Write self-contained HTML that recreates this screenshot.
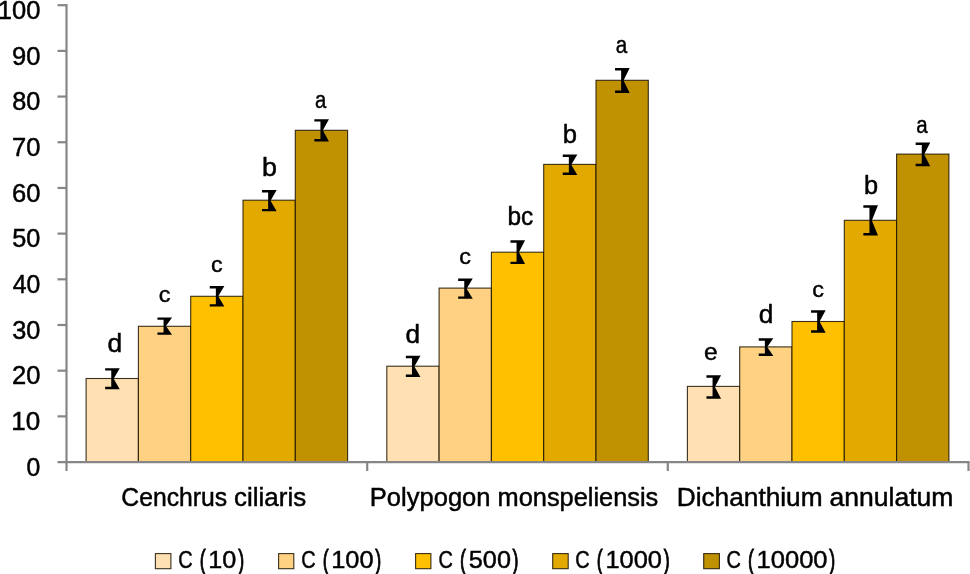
<!DOCTYPE html>
<html><head><meta charset="utf-8"><title>Chart</title>
<style>
html,body{margin:0;padding:0;background:#fff;}
body{width:970px;height:574px;overflow:hidden;font-family:"Liberation Sans",sans-serif;}
svg{display:block;}
</style></head>
<body>
<div style="will-change:transform;width:970px;height:574px;overflow:hidden"><svg width="970" height="574" viewBox="0 0 970 574">
<g stroke="#1a1200" stroke-opacity="0.86" stroke-width="1.1"><rect x="86.10" y="378.50" width="52.30" height="83.55" fill="#FFE0B2"/><rect x="138.40" y="326.30" width="52.30" height="135.75" fill="#FFD182"/><rect x="190.70" y="296.30" width="52.30" height="165.75" fill="#FFC000"/><rect x="243.00" y="200.20" width="52.30" height="261.85" fill="#E2AA00"/><rect x="295.30" y="130.30" width="52.30" height="331.75" fill="#C09100"/><rect x="386.80" y="366.20" width="52.30" height="95.85" fill="#FFE0B2"/><rect x="439.10" y="288.10" width="52.30" height="173.95" fill="#FFD182"/><rect x="491.40" y="252.20" width="52.30" height="209.85" fill="#FFC000"/><rect x="543.70" y="164.40" width="52.30" height="297.65" fill="#E2AA00"/><rect x="596.00" y="80.30" width="52.30" height="381.75" fill="#C09100"/><rect x="687.40" y="386.40" width="52.30" height="75.65" fill="#FFE0B2"/><rect x="739.70" y="346.90" width="52.30" height="115.15" fill="#FFD182"/><rect x="792.00" y="321.50" width="52.30" height="140.55" fill="#FFC000"/><rect x="844.30" y="220.30" width="52.30" height="241.75" fill="#E2AA00"/><rect x="896.60" y="154.10" width="52.30" height="307.95" fill="#C09100"/></g>
<g stroke="#868686" stroke-width="2.2" fill="none"><line x1="66.5" y1="4.10" x2="66.5" y2="471"/><line x1="57.5" y1="462.05" x2="969.6" y2="462.05"/><line x1="57.5" y1="5.20" x2="66.5" y2="5.20"/><line x1="57.5" y1="50.89" x2="66.5" y2="50.89"/><line x1="57.5" y1="96.57" x2="66.5" y2="96.57"/><line x1="57.5" y1="142.25" x2="66.5" y2="142.25"/><line x1="57.5" y1="187.94" x2="66.5" y2="187.94"/><line x1="57.5" y1="233.62" x2="66.5" y2="233.62"/><line x1="57.5" y1="279.31" x2="66.5" y2="279.31"/><line x1="57.5" y1="325.00" x2="66.5" y2="325.00"/><line x1="57.5" y1="370.68" x2="66.5" y2="370.68"/><line x1="57.5" y1="416.37" x2="66.5" y2="416.37"/><line x1="367.2" y1="462.05" x2="367.2" y2="471"/><line x1="667.8" y1="462.05" x2="667.8" y2="471"/><line x1="968.5" y1="462.05" x2="968.5" y2="471"/></g>
<g fill="#000"><path d="M105.15 368.20H119.75L113.65 378.70L119.75 389.20H105.15V386.80H111.25V370.60H105.15Z"/><path d="M157.45 317.40H172.05L165.95 326.10L172.05 334.80H157.45V332.40H163.55V319.80H157.45Z"/><path d="M209.75 286.00H224.35L218.25 296.30L224.35 306.60H209.75V304.20H215.85V288.40H209.75Z"/><path d="M262.05 190.10H276.65L270.55 200.70L276.65 211.30H262.05V208.90H268.15V192.50H262.05Z"/><path d="M314.35 119.20H328.95L322.85 130.30L328.95 141.40H314.35V139.00H320.45V121.60H314.35Z"/><path d="M405.85 355.80H420.45L414.35 366.40L420.45 377.00H405.85V374.60H411.95V358.20H405.85Z"/><path d="M458.15 278.60H472.75L466.65 288.70L472.75 298.80H458.15V296.40H464.25V281.00H458.15Z"/><path d="M510.45 240.30H525.05L518.95 252.20L525.05 264.10H510.45V261.70H516.55V242.70H510.45Z"/><path d="M562.75 154.50H577.35L571.25 164.70L577.35 174.90H562.75V172.50H568.85V156.90H562.75Z"/><path d="M615.05 68.10H629.65L623.55 80.50L629.65 92.90H615.05V90.50H621.15V70.50H615.05Z"/><path d="M706.45 375.30H721.05L714.95 387.00L721.05 398.70H706.45V396.30H712.55V377.70H706.45Z"/><path d="M758.75 338.30H773.35L767.25 347.10L773.35 355.90H758.75V353.50H764.85V340.70H758.75Z"/><path d="M811.05 310.30H825.65L819.55 321.50L825.65 332.70H811.05V330.30H817.15V312.70H811.05Z"/><path d="M863.35 205.30H877.95L871.85 220.40L877.95 235.50H863.35V233.10H869.45V207.70H863.35Z"/><path d="M915.65 142.60H930.25L924.15 154.40L930.25 166.20H915.65V163.80H921.75V145.00H915.65Z"/></g>
<g stroke="#1a1200" stroke-opacity="0.86" stroke-width="1.1"><rect x="155.40" y="553.6" width="15.50" height="15.1" fill="#FFE0B2"/><rect x="278.60" y="553.6" width="15.20" height="15.1" fill="#FFD182"/><rect x="415.60" y="553.6" width="15.30" height="15.1" fill="#FFC000"/><rect x="552.70" y="553.6" width="15.50" height="15.1" fill="#E2AA00"/><rect x="703.70" y="553.6" width="15.70" height="15.1" fill="#C09100"/></g>
<g font-family="Liberation Sans, sans-serif" font-size="24" fill="#000" stroke="#000" stroke-width="0.45"><text transform="matrix(1.0649 0 0 1.0400 -2.20 18.88)">100</text>
<text transform="matrix(1.0640 0 0 1.0400 11.94 64.57)">90</text>
<text transform="matrix(1.0535 0 0 1.0400 12.21 110.25)">80</text>
<text transform="matrix(1.0640 0 0 1.0400 11.94 155.93)">70</text>
<text transform="matrix(1.0640 0 0 1.0400 11.94 201.62)">60</text>
<text transform="matrix(1.0535 0 0 1.0400 12.21 247.30)">50</text>
<text transform="matrix(1.0330 0 0 1.0400 12.74 292.99)">40</text>
<text transform="matrix(1.0535 0 0 1.0400 12.21 338.68)">30</text>
<text transform="matrix(1.0640 0 0 1.0400 11.94 384.36)">20</text>
<text transform="matrix(1.0857 0 0 1.0400 11.37 430.05)">10</text>
<text transform="matrix(1.0333 0 0 1.0400 26.43 475.73)">0</text>
<text transform="matrix(1.1022 0 0 1.0556 107.57 351.57)">d</text>
<text transform="matrix(0.9767 0 0 0.9111 158.67 301.94)">c</text>
<text transform="matrix(0.9674 0 0 0.9259 210.97 271.84)">c</text>
<text transform="matrix(1.1200 0 0 1.0556 261.90 176.47)">b</text>
<text transform="matrix(0.8471 0 0 0.9778 315.06 108.21)">a</text>
<text transform="matrix(1.0933 0 0 1.0833 405.48 342.56)">d</text>
<text transform="matrix(0.9767 0 0 0.9259 459.37 264.04)">c</text>
<text transform="matrix(1.0189 0 0 1.0889 507.53 225.46)">bc</text>
<text transform="matrix(1.0667 0 0 1.0833 562.77 143.46)">b</text>
<text transform="matrix(0.8627 0 0 1.0222 615.65 53.29)">a</text>
<text transform="matrix(1.0213 0 0 0.9778 704.03 359.81)">e</text>
<text transform="matrix(1.0933 0 0 1.0722 758.68 323.26)">d</text>
<text transform="matrix(0.9767 0 0 0.9556 812.27 297.42)">c</text>
<text transform="matrix(1.0578 0 0 1.0889 863.88 193.66)">b</text>
<text transform="matrix(0.8549 0 0 1.0148 916.26 132.79)">a</text>
<text transform="matrix(1.0307 0 0 1.0629 121.37 505.50)">Cenchrus</text>
<text transform="matrix(1.0805 0 0 1.0629 234.09 505.50)">ciliaris</text>
<text transform="matrix(1.0658 0 0 1.0629 369.73 505.50)">Polypogon</text>
<text transform="matrix(1.0569 0 0 1.0629 497.58 505.50)">monspeliensis</text>
<text transform="matrix(1.0940 0 0 1.0629 676.69 505.50)">Dichanthium</text>
<text transform="matrix(1.1064 0 0 1.0629 829.57 505.50)">annulatum</text>
<text transform="matrix(0.8317 0 0 1.0314 178.27 568.23)">C</text>
<text stroke-width="0.9" transform="matrix(0.7429 0 0 1.1297 199.77 568.67)">(</text>
<text transform="matrix(1.0506 0 0 1.0143 208.32 568.24)">10</text>
<text stroke-width="0.9" transform="matrix(0.7429 0 0 1.1297 238.13 568.67)">)</text>
<text transform="matrix(0.8317 0 0 1.0314 301.17 568.23)">C</text>
<text stroke-width="0.9" transform="matrix(0.7429 0 0 1.1297 322.67 568.67)">(</text>
<text transform="matrix(1.0599 0 0 1.0143 331.21 568.24)">100</text>
<text stroke-width="0.9" transform="matrix(0.7429 0 0 1.1297 375.30 568.67)">)</text>
<text transform="matrix(0.8317 0 0 1.0314 438.47 568.23)">C</text>
<text stroke-width="0.9" transform="matrix(0.7429 0 0 1.1297 459.97 568.67)">(</text>
<text transform="matrix(1.0522 0 0 1.0143 468.81 568.24)">500</text>
<text stroke-width="0.9" transform="matrix(0.7429 0 0 1.1297 512.60 568.67)">)</text>
<text transform="matrix(0.8317 0 0 1.0314 575.37 568.23)">C</text>
<text stroke-width="0.9" transform="matrix(0.7429 0 0 1.1297 596.87 568.67)">(</text>
<text transform="matrix(1.0591 0 0 1.0143 605.41 568.24)">1000</text>
<text stroke-width="0.9" transform="matrix(0.7429 0 0 1.1297 663.77 568.67)">)</text>
<text transform="matrix(0.8317 0 0 1.0314 726.57 568.23)">C</text>
<text stroke-width="0.9" transform="matrix(0.7429 0 0 1.1297 748.07 568.67)">(</text>
<text transform="matrix(1.0628 0 0 1.0143 756.61 568.24)">10000</text>
<text stroke-width="0.9" transform="matrix(0.7429 0 0 1.1297 829.24 568.67)">)</text></g>
</svg></div>
</body></html>
